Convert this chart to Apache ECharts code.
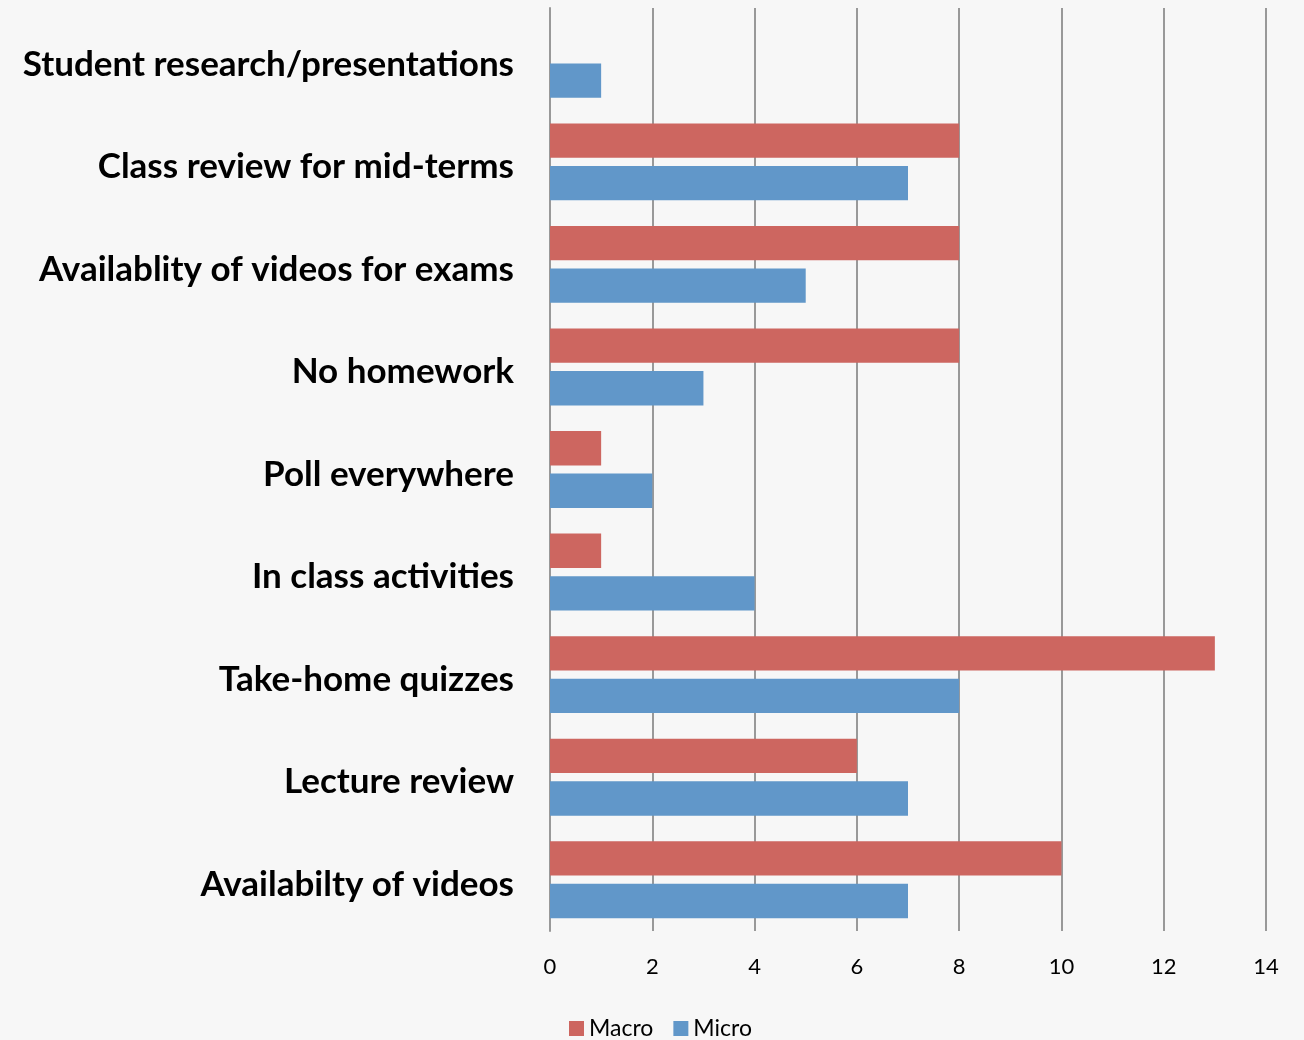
<!DOCTYPE html>
<html><head><meta charset="utf-8">
<script src="https://cdn.jsdelivr.net/npm/echarts@6/dist/echarts.min.js"></script>
<style>html,body{margin:0;padding:0;background:#f7f7f7;}#c{width:1304px;height:1040px;}</style>
</head><body><div id="c"></div>
<script>
const categories = ["Availabilty of videos","Lecture review","Take-home quizzes","In class activities","Poll everywhere","No homework","Availablity of videos for exams","Class review for mid-terms","Student research/presentations"];
const macro = [10, 6, 13, 1, 1, 8, 8, 8, null];
const micro = [7, 7, 8, 4, 2, 3, 5, 7, 1];
const xTicks = [0, 2, 4, 6, 8, 10, 12, 14];

const chart = echarts.init(document.getElementById('c'), null, {renderer:'canvas'});
chart.setOption({
  backgroundColor:'#f7f7f7',
  animation:false,
  grid:{left:550, right:38, top:8, bottom:109},
  legend:{data:['Macro','Micro'], top:1012, left:564, itemWidth:15, itemHeight:15, itemGap:20,
    icon:'rect', textStyle:{fontFamily:'Lato', fontSize:23, color:'#000'}},
  xAxis:{type:'value', min:xTicks[0], max:xTicks[xTicks.length-1], interval:2,
    axisLine:{show:false}, axisTick:{show:false},
    splitLine:{lineStyle:{color:'#999', width:2}},
    axisLabel:{fontFamily:'Lato', fontSize:22, color:'#000', margin:25}},
  yAxis:{type:'category', data:categories,
    axisLine:{lineStyle:{color:'#999', width:2}}, axisTick:{show:false},
    axisLabel:{margin:36, formatter:v => '{a|' + v + '}',
      rich:{a:{fontFamily:'Lato', fontWeight:'bold', fontSize:35, color:'#000', padding:[10,0,0,0]}}}},
  series:[
    {name:'Macro', type:'bar', data:macro, itemStyle:{color:'#cd6660'}, barGap:'24%', barCategoryGap:'25%'},
    {name:'Micro', type:'bar', data:micro, itemStyle:{color:'#6197c9'}, barGap:'24%', barCategoryGap:'25%'}
  ]
});
</script></body></html>
